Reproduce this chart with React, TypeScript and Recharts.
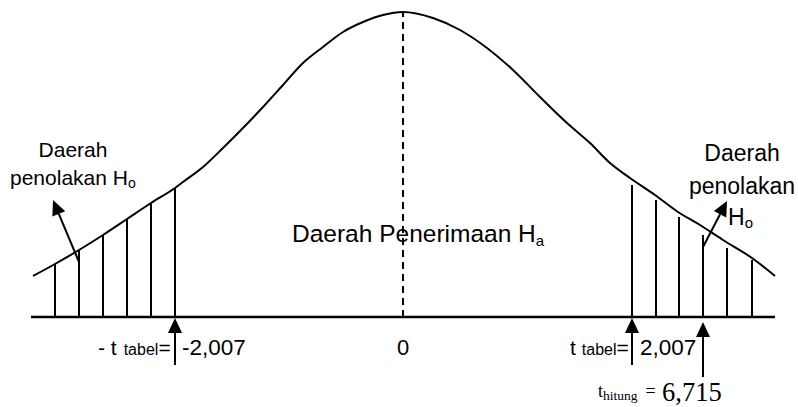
import React from "react";
import { LineChart, Line, XAxis, YAxis, ReferenceLine, ReferenceDot } from "recharts";

// bell curve: position from the centre line, height above the axis
const curvePos = [
  -370, -348, -324, -300, -276, -252, -228, -220, -200, -180, -160, -140, -120, -100, -80, -60, -40, -20, 0,
  30, 57, 84, 110, 137, 164, 187, 207, 227, 252, 275, 297, 320, 349, 372,
];
const curveHeight = [
  41, 53, 67, 82, 98, 114, 129, 135, 150, 169, 189, 210, 232, 254, 270, 285, 295, 302, 305,
  299, 287, 269, 247, 220, 194, 174, 154, 139, 122, 105, 92, 77, 59, 41,
];

// hatching of the rejection regions
const leftHatchPos = [-348, -324, -300, -276, -252, -228];
const leftHatchTop = [53, 67, 82, 98, 114, 129];
const rightHatchPos = [229, 253, 276, 300, 324, 349];
const rightHatchTop = [132, 117, 100, 82, 69, 57];

// critical values
const tTabelLow = -228;
const tTabelHigh = 229;
const tHitung = 300;
const tickLabels = ["-2,007", "0", "2,007", "6,715"];

const data = curvePos.map((x, i) => ({ x, h: curveHeight[i] }));

const SANS = "'Liberation Sans', Arial, sans-serif";
const SERIF = "'Liberation Serif', 'Times New Roman', serif";

const Arrow = (p: any) => {
  const { x1, y1, x2, y2 } = p;
  const dx = x2 - x1;
  const dy = y2 - y1;
  const len = Math.hypot(dx, dy) || 1;
  const ux = dx / len;
  const uy = dy / len;
  const bx = x2 - ux * 15;
  const by = y2 - uy * 15;
  const px = -uy * 7;
  const py = ux * 7;
  return (
    <g>
      <line x1={x1} y1={y1} x2={bx} y2={by} stroke="#000" strokeWidth={2} />
      <polygon points={`${x2},${y2} ${bx + px},${by + py} ${bx - px},${by - py}`} fill="#000" />
    </g>
  );
};

// text placed through the chart scales
const note = (key: string, x: number, h: number, render: (cx: number, cy: number) => React.ReactElement) => (
  <ReferenceDot key={key} x={x} y={h} r={0} ifOverflow="visible" shape={(p: any) => render(p.cx, p.cy)} />
);

export default function App() {
  return (
    <div style={{ position: "absolute", left: 0, top: 0, width: 798, height: 407, background: "#fff" }}>
      <LineChart width={798} height={407} data={data} margin={{ top: 0, right: 0, bottom: 0, left: 0 }}>
        <XAxis dataKey="x" type="number" domain={[-403, 395]} hide allowDataOverflow />
        <YAxis type="number" domain={[-90, 317]} hide allowDataOverflow />

        <ReferenceLine segment={[{ x: -372, y: 0 }, { x: 372, y: 0 }]} stroke="#000" strokeWidth={2.5} ifOverflow="visible" />
        <ReferenceLine
          segment={[{ x: 0, y: 0 }, { x: 0, y: 305 }]}
          stroke="#000"
          strokeWidth={2}
          strokeDasharray="7 5"
          ifOverflow="visible"
        />

        {leftHatchPos.map((x, i) => (
          <ReferenceLine key={`l${i}`} segment={[{ x, y: 0 }, { x, y: leftHatchTop[i] }]} stroke="#000" strokeWidth={2} ifOverflow="visible" />
        ))}
        {rightHatchPos.map((x, i) => (
          <ReferenceLine key={`r${i}`} segment={[{ x, y: 0 }, { x, y: rightHatchTop[i] }]} stroke="#000" strokeWidth={2} ifOverflow="visible" />
        ))}

        <Line dataKey="h" type="monotone" stroke="#000" strokeWidth={2} dot={false} activeDot={false} isAnimationActive={false} />

        <ReferenceLine segment={[{ x: tTabelLow, y: -48 }, { x: tTabelLow, y: -1 }]} shape={Arrow} ifOverflow="visible" />
        <ReferenceLine segment={[{ x: tTabelHigh, y: -48 }, { x: tTabelHigh, y: -1 }]} shape={Arrow} ifOverflow="visible" />
        <ReferenceLine segment={[{ x: tHitung, y: -60 }, { x: tHitung, y: -5 }]} shape={Arrow} ifOverflow="visible" />
        <ReferenceLine segment={[{ x: -324, y: 55 }, { x: -350, y: 117 }]} shape={Arrow} ifOverflow="visible" />
        <ReferenceLine segment={[{ x: 300, y: 70 }, { x: 324, y: 116 }]} shape={Arrow} ifOverflow="visible" />

        {note("ld", -330, 160, (cx, cy) => (
          <text x={cx} y={cy} textAnchor="middle" fontFamily={SANS} fontSize={21}>Daerah</text>
        ))}
        {note("lp", -393, 132, (cx, cy) => (
          <text x={cx} y={cy} fontFamily={SANS} fontSize={21}>
            penolakan H<tspan fontSize={14} dy={3}>o</tspan>
          </text>
        ))}
        {note("rd", 339, 156, (cx, cy) => (
          <text x={cx} y={cy} textAnchor="middle" fontFamily={SANS} fontSize={23}>Daerah</text>
        ))}
        {note("rp", 339, 123, (cx, cy) => (
          <text x={cx} y={cy} textAnchor="middle" fontFamily={SANS} fontSize={23}>penolakan</text>
        ))}
        {note("rh", 325, 92, (cx, cy) => (
          <text x={cx} y={cy} fontFamily={SANS} fontSize={23}>
            H<tspan fontSize={15} dy={3}>o</tspan>
          </text>
        ))}

        {note("c1", -111, 75, (cx, cy) => (
          <text x={cx} y={cy} fontFamily={SANS} fontSize={24.5}>
            Daerah Penerimaan H<tspan fontSize={15} dy={4}>a</tspan>
          </text>
        ))}

        {note("t1", -305, -38, (cx, cy) => (
          <text x={cx} y={cy} fontFamily={SANS} fontSize={21}>
            - t<tspan fontSize={16} dx={7}>tabel</tspan>
            <tspan fontSize={21}>=</tspan>
          </text>
        ))}
        {note("t1v", -221, -38, (cx, cy) => (
          <text x={cx} y={cy} fontFamily={SANS} fontSize={22.5}>{tickLabels[0]}</text>
        ))}
        {note("t0", 0, -38, (cx, cy) => (
          <text x={cx} y={cy} textAnchor="middle" fontFamily={SANS} fontSize={22}>{tickLabels[1]}</text>
        ))}
        {note("t2", 167, -38, (cx, cy) => (
          <text x={cx} y={cy} fontFamily={SANS} fontSize={21}>
            t<tspan fontSize={16} dx={6}>tabel</tspan>
            <tspan fontSize={21}>=</tspan>
          </text>
        ))}
        {note("t2v", 237, -38, (cx, cy) => (
          <text x={cx} y={cy} fontFamily={SANS} fontSize={22.5}>{tickLabels[2]}</text>
        ))}
        {note("t3", 195, -80, (cx, cy) => (
          <text x={cx} y={cy} fontFamily={SERIF} fontSize={18}>
            t<tspan fontSize={13.5} dy={3}>hitung</tspan>
            <tspan fontSize={18} dy={-3} dx={8}>=</tspan>
          </text>
        ))}
        {note("t3v", 259, -84, (cx, cy) => (
          <text x={cx} y={cy} fontFamily={SERIF} fontSize={26.5}>{tickLabels[3]}</text>
        ))}
      </LineChart>
    </div>
  );
}
